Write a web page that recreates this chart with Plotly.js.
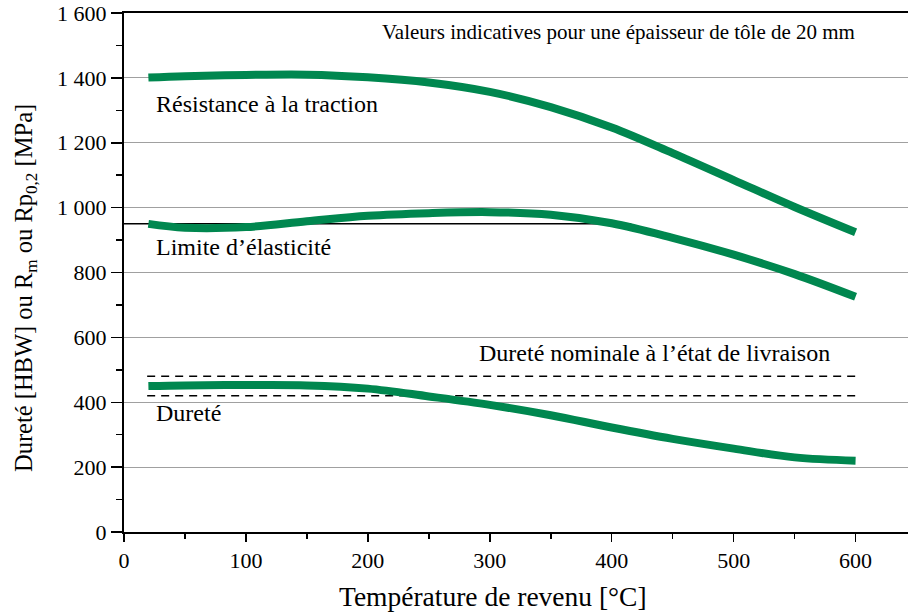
<!DOCTYPE html>
<html>
<head>
<meta charset="utf-8">
<script src="https://cdn.plot.ly/plotly-3.0.1.min.js"></script>
<style>html,body{margin:0;padding:0;background:#fff;}#chart{width:908px;height:612px;}</style>
</head>
<body>
<div id="chart"></div>
<script>
var temperature = [20, 50, 100, 150, 200, 250, 300, 350, 400, 450, 500, 550, 600];
var tensileStrength = [1401, 1405, 1409, 1410, 1402, 1386, 1357, 1310, 1247, 1168, 1085, 1002, 924];
var yieldStrength = [950, 938, 940, 958, 975, 983, 986, 978, 952, 907, 855, 795, 725];
var hardness = [450, 452, 453, 452, 442, 418, 392, 360, 322, 287, 257, 230, 220];

var yieldRefX = [-10, 416];
var yieldRefY = [950, 950];
var nominalX = [19, 600];
var nominalUpper = [480, 480];
var nominalLower = [420, 420];

var yTickVals = [0, 200, 400, 600, 800, 1000, 1200, 1400, 1600];
var yTickText = ['0', '200', '400', '600', '800', '1 000', '1 200', '1 400', '1 600'];
var xTickVals = [0, 100, 200, 300, 400, 500, 600];
var xTickText = ['0', '100', '200', '300', '400', '500', '600'];

var xTitle = 'Température de revenu [°C]';
var yTitle = 'Dureté [HBW] ou R<sub>m</sub> ou Rp<sub>0,2</sub> [MPa]';

var green = '#00874f';
var font = "'Liberation Serif', 'Times New Roman', Times, serif";

var traces = [
  {x: yieldRefX, y: yieldRefY, mode: 'lines', line: {color: '#000', width: 1.5}, cliponaxis: false, hoverinfo: 'skip'},
  {x: nominalX, y: nominalUpper, mode: 'lines', line: {color: '#000', width: 1.5, dash: '8px,6px'}, hoverinfo: 'skip'},
  {x: nominalX, y: nominalLower, mode: 'lines', line: {color: '#000', width: 1.5, dash: '8px,6px'}, hoverinfo: 'skip'},
  {x: temperature, y: tensileStrength, mode: 'lines', line: {color: green, width: 8, shape: 'spline'}, name: 'Résistance à la traction'},
  {x: temperature, y: yieldStrength, mode: 'lines', line: {color: green, width: 8, shape: 'spline'}, name: 'Limite d’élasticité'},
  {x: temperature, y: hardness, mode: 'lines', line: {color: green, width: 8, shape: 'spline'}, name: 'Dureté'}
];

var layout = {
  width: 908, height: 612,
  margin: {l: 124, r: 0, t: 13, b: 80},
  paper_bgcolor: '#fff', plot_bgcolor: '#fff',
  showlegend: false,
  font: {family: font, color: '#000', size: 21},
  xaxis: {
    range: [0, 643], tickvals: xTickVals, ticktext: xTickText,
    showgrid: false, zeroline: false,
    showline: true, linecolor: '#000', linewidth: 2, mirror: true,
    ticks: 'outside', ticklen: 8, tickwidth: 1.5, tickcolor: '#000',
    minor: {dtick: 50, tick0: 0, ticks: 'outside', ticklen: 5, tickwidth: 1.5, tickcolor: '#000', showgrid: false},
    tickfont: {family: font, size: 22}
  },
  yaxis: {
    range: [0, 1600], tickvals: yTickVals, ticktext: yTickText,
    showgrid: true, gridcolor: '#a0a0a0', gridwidth: 1, zeroline: false,
    showline: true, linecolor: '#000', linewidth: 2,
    ticks: 'outside', ticklen: 11, tickwidth: 1.5, tickcolor: '#000',
    minor: {dtick: 100, tick0: 0, ticks: 'outside', ticklen: 6, tickwidth: 1.5, tickcolor: '#000', showgrid: false},
    tickfont: {family: font, size: 22}
  },
  annotations: [
    {x: 0.4707, y: -0.125, xref: 'paper', yref: 'paper', text: xTitle, showarrow: false, xanchor: 'center', yanchor: 'middle', font: {family: font, size: 27.5}},
    {x: -0.1263, y: 0.47, xref: 'paper', yref: 'paper', text: yTitle, showarrow: false, textangle: -90, xanchor: 'center', yanchor: 'middle', font: {family: font, size: 24.5}},
    {x: 25, y: 1318, xref: 'x', yref: 'y', text: 'Résistance à la traction', showarrow: false, xanchor: 'left', yanchor: 'middle', font: {family: font, size: 24}},
    {x: 25, y: 880, xref: 'x', yref: 'y', text: 'Limite d’élasticité', showarrow: false, xanchor: 'left', yanchor: 'middle', font: {family: font, size: 24}},
    {x: 25, y: 367, xref: 'x', yref: 'y', text: 'Dureté', showarrow: false, xanchor: 'left', yanchor: 'middle', font: {family: font, size: 24}},
    {x: 581, y: 551, xref: 'x', yref: 'y', text: 'Dureté nominale à l’état de livraison', showarrow: false, xanchor: 'right', yanchor: 'middle', font: {family: font, size: 24}},
    {x: 601, y: 1541, xref: 'x', yref: 'y', text: 'Valeurs indicatives pour une épaisseur de tôle de 20 mm', showarrow: false, xanchor: 'right', yanchor: 'middle', font: {family: font, size: 21}}
  ]
};

Plotly.newPlot('chart', traces, layout, {displayModeBar: false, staticPlot: true});
</script>
</body>
</html>
